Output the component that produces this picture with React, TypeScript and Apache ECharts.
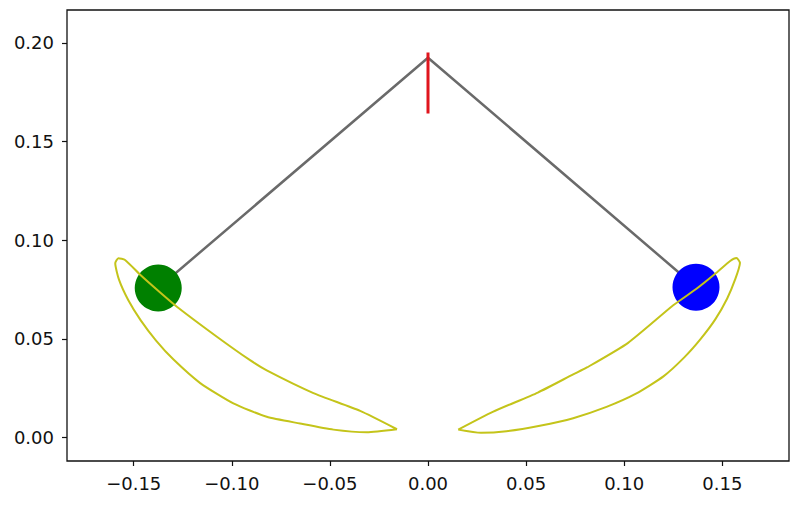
import React, { useEffect, useRef } from "react";
import * as echarts from "echarts";

const xTicks = [-0.15, -0.1, -0.05, 0, 0.05, 0.1, 0.15];
const yTicks = [0, 0.05, 0.1, 0.15, 0.2];

const pivot: [number, number] = [0, 0.1925];
const leftBob: [number, number] = [-0.1375, 0.0758];
const rightBob: [number, number] = [0.1366, 0.0762];

const redMark: [number, number][] = [
  [0, 0.1952],
  [0, 0.1643],
];

const leftTrace: [number, number][] = [
  [-0.0158, 0.0042],
  [-0.0346, 0.0135],
  [-0.0584, 0.0225],
  [-0.0822, 0.034],
  [-0.0907, 0.0392],
  [-0.1076, 0.0511],
  [-0.128, 0.0663],
  [-0.1365, 0.0735],
  [-0.1467, 0.0825],
  [-0.1544, 0.09],
  [-0.1578, 0.0909],
  [-0.1594, 0.0883],
  [-0.1575, 0.08],
  [-0.1528, 0.0697],
  [-0.1465, 0.0595],
  [-0.1385, 0.049],
  [-0.1297, 0.0395],
  [-0.1161, 0.0276],
  [-0.0992, 0.0173],
  [-0.0822, 0.0105],
  [-0.0652, 0.0071],
  [-0.0482, 0.004],
  [-0.0312, 0.0027],
  [-0.0158, 0.0042],
];

const rightTrace: [number, number][] = [
  [0.0154, 0.004],
  [0.033, 0.013],
  [0.056, 0.0228],
  [0.074, 0.032],
  [0.081, 0.0355],
  [0.102, 0.048],
  [0.125, 0.067],
  [0.137, 0.0755],
  [0.147, 0.0835],
  [0.154, 0.0895],
  [0.1572, 0.091],
  [0.159, 0.0885],
  [0.1565, 0.08],
  [0.1525, 0.0705],
  [0.1465, 0.06],
  [0.139, 0.05],
  [0.1305, 0.0405],
  [0.12, 0.031],
  [0.106, 0.0222],
  [0.091, 0.0155],
  [0.074, 0.0098],
  [0.057, 0.006],
  [0.04, 0.0032],
  [0.027, 0.0024],
  [0.0154, 0.004],
];

const fmt = (v: number) => {
  const s = Math.abs(v).toFixed(2);
  return v < -1e-9 ? "\u2212" + s : s;
};

export default function App() {
  const ref = useRef<HTMLDivElement>(null);
  useEffect(() => {
    if (!ref.current) return;
    const chart = echarts.init(ref.current, null, { renderer: "svg" });
    const font = "DejaVu Sans";
    chart.setOption({
      animation: false,
      backgroundColor: "#ffffff",
      grid: {
        left: 67,
        top: 10,
        width: 722,
        height: 451,
        show: true,
        borderColor: "#111",
        borderWidth: 1.3,
        backgroundColor: "transparent",
      },
      xAxis: {
        type: "value",
        min: -0.184,
        max: 0.184,
        splitLine: { show: false },
        axisLine: { show: false, onZero: false },
        axisTick: {
          show: true,
          length: 5,
          inside: false,
          customValues: xTicks,
          lineStyle: { color: "#111", width: 1.2 },
        },
        axisLabel: {
          customValues: xTicks,
          formatter: (v: number) => fmt(v),
          color: "#111",
          fontFamily: font,
          fontSize: 18,
          margin: 13,
          showMinLabel: true,
          showMaxLabel: true,
        },
      },
      yAxis: {
        type: "value",
        min: -0.0119,
        max: 0.2167,
        splitLine: { show: false },
        axisLine: { show: false, onZero: false },
        axisTick: {
          show: true,
          length: 5,
          inside: false,
          customValues: yTicks,
          lineStyle: { color: "#111", width: 1.2 },
        },
        axisLabel: {
          customValues: yTicks,
          formatter: (v: number) => fmt(v),
          color: "#111",
          fontFamily: font,
          fontSize: 18,
          margin: 13,
        },
      },
      series: [
        {
          type: "line",
          data: [leftBob, pivot, rightBob],
          showSymbol: false,
          symbol: "none",
          lineStyle: { color: "#6a6a6a", width: 2.5 },
          z: 1,
        },
        {
          type: "scatter",
          symbolSize: 47,
          data: [
            { value: leftBob, itemStyle: { color: "#008000", opacity: 1 } },
            { value: rightBob, itemStyle: { color: "#0000ff", opacity: 1 } },
          ],
          z: 2,
        },
        {
          type: "line",
          data: leftTrace,
          symbol: "none",
          smooth: 0.2,
          lineStyle: { color: "#c4c41a", width: 2 },
          z: 3,
        },
        {
          type: "line",
          data: rightTrace,
          symbol: "none",
          smooth: 0.2,
          lineStyle: { color: "#c4c41a", width: 2 },
          z: 3,
        },
        {
          type: "line",
          data: redMark,
          symbol: "none",
          lineStyle: { color: "#e0151d", width: 3 },
          z: 4,
        },
      ],
    });
    return () => chart.dispose();
  }, []);
  return <div ref={ref} style={{ width: 800, height: 508, margin: -8 }} />;
}
